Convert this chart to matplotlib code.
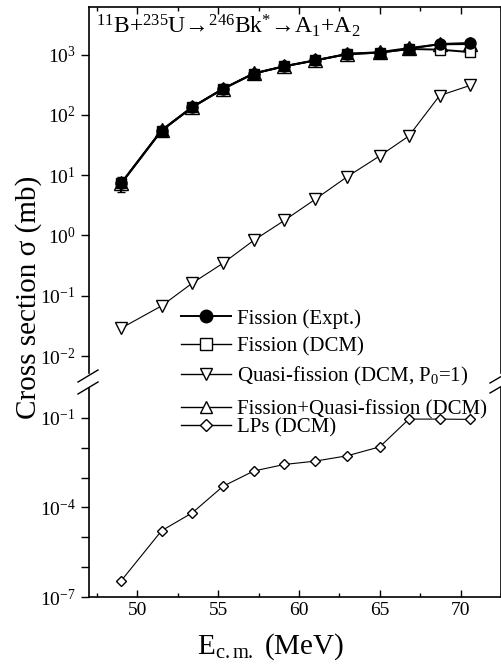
import numpy as np
import matplotlib.pyplot as plt
from matplotlib.lines import Line2D
from matplotlib.ticker import FixedLocator, FuncFormatter, MultipleLocator, NullLocator

plt.rcParams['font.family'] = 'Liberation Serif'
plt.rcParams['mathtext.fontset'] = 'custom'
plt.rcParams['mathtext.rm'] = 'Liberation Serif'
plt.rcParams['mathtext.it'] = 'Liberation Serif:italic'

# data
e_cm = [49.0, 51.5, 53.4, 55.3, 57.2, 59.1, 61.0, 63.0, 65.0, 66.8, 68.7, 70.6]
fission_expt = [7.3, 55, 134, 270, 485, 640, 800, 1020, 1080, 1240, 1500, 1560]
fission_expt_err = [2.1, 0, 0, 0, 0, 0, 0, 0, 0, 0, 0, 0]
fission_dcm = [7.3, 55, 134, 270, 485, 640, 800, 1020, 1080, 1240, 1210, 1100]
quasi_fission = [0.029, 0.068, 0.162, 0.347, 0.83, 1.78, 3.98, 9.5, 20.9, 44.7, 209, 309]
fission_qf = [7.4, 56, 136, 272, 488, 645, 805, 1030, 1100, 1285, 1480, 1500]
lps = [3.5e-7, 1.66e-5, 6.6e-5, 5.1e-4, 1.66e-3, 2.75e-3, 3.55e-3, 5.4e-3,
       1.07e-2, 0.091, 0.091, 0.089]

labels = ["Fission (Expt.)", "Fission (DCM)", r"Quasi-fission (DCM, P$_0$=1)",
          "Fission+Quasi-fission (DCM)", "LPs (DCM)"]

fig = plt.figure(figsize=(5.02, 6.66), dpi=100)
ax_top = fig.add_axes([0.177, 0.440, 0.821, 0.5495])
ax_bot = fig.add_axes([0.177, 0.1036, 0.821, 0.3138])

# upper panel
ax_top.plot(e_cm, fission_qf, color='k', lw=1.4, marker='^', ms=10,
            mfc='white', mec='k', zorder=3)
ax_top.plot(e_cm, fission_dcm, color='k', lw=1.4, marker='s', ms=7.5,
            mfc='white', mec='k', zorder=4)
ax_top.errorbar(e_cm, fission_expt, yerr=fission_expt_err, color='k', lw=1.4,
                marker='o', ms=8, mfc='k', mec='k', capsize=3, zorder=5)
ax_top.plot(e_cm, quasi_fission, color='k', lw=0.8, marker='v', ms=8,
            mfc='white', mec='k', zorder=3)

# lower panel
ax_bot.plot(e_cm, lps, color='k', lw=0.8, marker='D', ms=5,
            mfc='white', mec='k', zorder=3)

for ax in (ax_top, ax_bot):
    ax.set_yscale('log')
    ax.set_xlim(47, 72.5)
    ax.xaxis.set_major_locator(MultipleLocator(5))
    ax.xaxis.set_minor_locator(MultipleLocator(2.5))
    ax.yaxis.set_minor_locator(NullLocator())
    ax.tick_params(axis='x', which='major', direction='in', length=5, width=1,
                   labelsize=14)
    ax.tick_params(axis='x', which='minor', direction='in', length=3, width=1)
    ax.tick_params(axis='y', which='major', direction='out', length=6, width=1,
                   labelsize=14, right=False)
    for s in ax.spines.values():
        s.set_linewidth(1.2)

ax_top.set_ylim(10 ** -2.28, 10 ** 3.79)
ax_top.yaxis.set_major_locator(FixedLocator([1e-2, 1e-1, 1e0, 1e1, 1e2, 1e3]))
ax_top.yaxis.set_major_formatter(
    FuncFormatter(lambda v, p: r"10$^{%d}$" % round(np.log10(v))))
ax_top.spines['bottom'].set_visible(False)
ax_top.tick_params(axis='x', which='both', bottom=False, labelbottom=False, top=True)

ax_bot.set_ylim(1e-7, 1.0)
ax_bot.yaxis.set_major_locator(FixedLocator([10.0 ** k for k in range(-7, 0)]))
ax_bot.yaxis.set_major_formatter(
    FuncFormatter(lambda v, p: r"10$^{%d}$" % round(np.log10(v))
                  if round(np.log10(v)) in (-1, -4, -7) else ""))
ax_bot.spines['top'].set_visible(False)
ax_bot.tick_params(axis='x', which='both', top=False)

ax_top.text(0.018, 0.985,
            r"$^{11}$B+$^{235}$U→$^{246}$Bk$^{*}$→A$_{1}$+A$_{2}$",
            transform=ax_top.transAxes, ha='left', va='top', fontsize=17)

# break marks
def px(x, y):
    return x / 502, 1 - y / 666

for (x0, y0, x1, y1) in [(78, 382, 98, 370), (78, 394, 98, 382),
                         (490, 383, 502, 376), (490, 393, 502, 386)]:
    a, b = px(x0, y0)
    c, d = px(x1, y1)
    fig.add_artist(Line2D([a, c], [b, d], color='k', lw=1.0))

fig.text(0.056, 0.553, "Cross section σ (mb)", rotation=90, ha='center',
         va='center', fontsize=21)
fig.text(0.538, 0.018, r"E$_{\mathrm{c.m.}}$ (MeV)", ha='center', va='baseline',
         fontsize=21)

# legend
h_expt = Line2D([], [], color='k', lw=1.4, marker='o', ms=9, mfc='k')
h_dcm = Line2D([], [], color='k', lw=1.0, marker='s', ms=8, mfc='white')
h_qf = Line2D([], [], color='k', lw=1.0, marker='v', ms=8, mfc='white')
h_sum = Line2D([], [], color='k', lw=1.0, marker='^', ms=9, mfc='white')
h_lp = Line2D([], [], color='k', lw=1.0, marker='D', ms=6, mfc='white')

leg_kw = dict(frameon=False, fontsize=15, handlelength=2.4, handletextpad=0.3,
              borderpad=0, borderaxespad=0, loc='upper left')
fig.legend([h_expt, h_dcm, h_qf], labels[:3], labelspacing=0.4,
           bbox_to_anchor=px(181, 309), **leg_kw)
fig.legend([h_sum, h_lp], labels[3:], labelspacing=-0.1,
           bbox_to_anchor=px(181, 400), **leg_kw)

fig.savefig("out.png", dpi=100)
